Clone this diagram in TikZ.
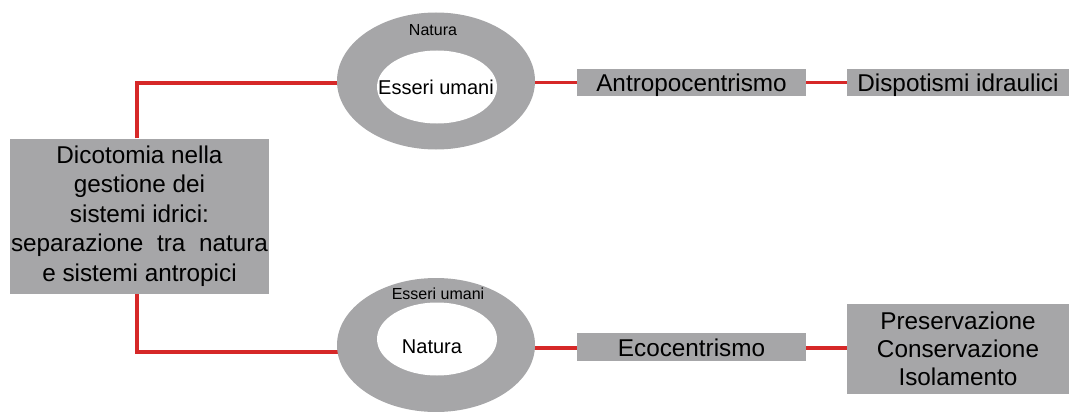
\documentclass[tikz,border=0pt]{standalone}
\usepackage{fontspec}
\setmainfont{Liberation Sans}
\usetikzlibrary{shapes.geometric,calc}
\pgfdeclarelayer{bg}
\pgfsetlayers{bg,main}
\definecolor{boxgray}{RGB}{166,166,168}
\definecolor{linkred}{RGB}{214,40,40}
\tikzset{
  greybox/.style={rectangle, fill=boxgray, draw=none, inner sep=0pt, align=center, font=\fontsize{24.3}{28}\selectfont},
  ring/.style={ellipse, fill=boxgray, draw=none, inner sep=0pt},
  hole/.style={ellipse, fill=white, draw=none, inner sep=0pt},
  holelab/.style={inner sep=0pt, font=\fontsize{20}{24}\selectfont},
  smalllab/.style={inner sep=0pt, font=\fontsize{16}{19}\selectfont},
  link/.style={draw=linkred, line width=3.3pt}
}
\begin{document}
\begin{tikzpicture}[x=1pt,y=-1pt]
\useasboundingbox (0,0) rectangle (1069,412);
% main box
\node[greybox, minimum width=259pt, minimum height=155pt, font=\fontsize{24.3}{29.5}\selectfont] (main) at (139.5,216)
  {Dicotomia nella\\gestione dei\\sistemi idrici:\\\makebox[257pt][s]{separazione tra natura}\\e sistemi antropici};
% top ring
\node[ring, minimum width=198pt, minimum height=137pt] (touter) at (436,81) {};
\node[hole, minimum width=120pt, minimum height=73pt] (tinner) at (437,87) {};
\node[holelab] (tinlab) at (436,87) {Esseri umani};
\node[smalllab] (tlab) at (433,30) {Natura};
% bottom ring
\node[ring, minimum width=198pt, minimum height=134pt] (bouter) at (436,345) {};
\node[hole, minimum width=120pt, minimum height=73pt] (binner) at (437,339) {};
\node[holelab] (binlab) at (432,347) {Natura};
\node[smalllab] (blab) at (438,294) {Esseri umani};
% right boxes
\node[greybox, minimum width=229pt, minimum height=27pt, text height=20pt, text depth=2pt] (antro) at (691.5,82.5) {Antropocentrismo};
\node[greybox, minimum width=222pt, minimum height=27pt, text height=20pt, text depth=2pt] (dispo) at (958,82.5) {Dispotismi idraulici};
\node[greybox, minimum width=229pt, minimum height=28pt, text height=20pt, text depth=2pt] (eco) at (691.5,347) {Ecocentrismo};
\node[greybox, minimum width=222pt, minimum height=90pt] (pres) at (958,349) {Preservazione\\Conservazione\\Isolamento};
% connectors
\coordinate (tjoin) at (137,83);
\coordinate (bjoin) at (137,352);
\begin{pgfonlayer}{bg}
\draw[link] (main.north -| tjoin) -- (tjoin) -- (tjoin -| touter.center);
\draw[link] (main.south -| bjoin) -- (bjoin) -- (bjoin -| bouter.center);
\draw[link] (touter.center |- antro.west) -- (antro.west);
\draw[link] (antro.east) -- (dispo.west);
\draw[link] (bouter.center |- 0,348) -- (eco.west |- 0,348);
\draw[link] (eco.east |- 0,348) -- (pres.west |- 0,348);
\end{pgfonlayer}
\end{tikzpicture}
\end{document}
